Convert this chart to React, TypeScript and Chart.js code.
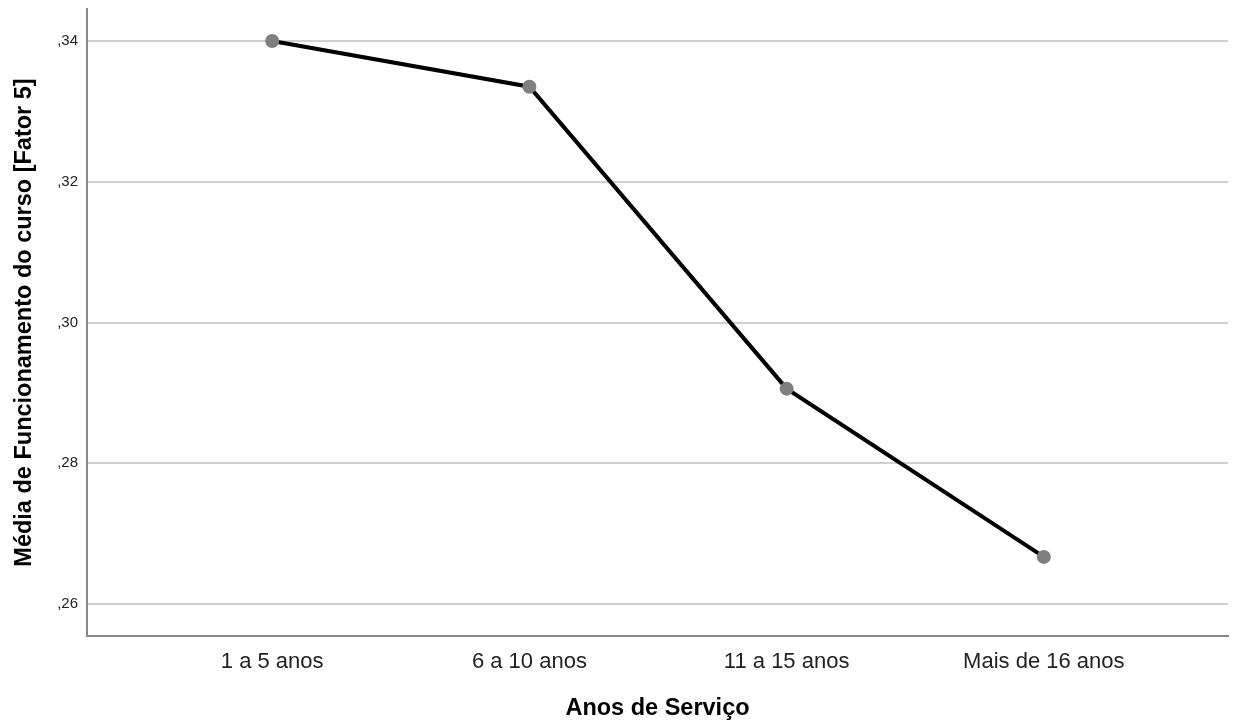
import React, { useEffect, useRef } from "react";
import { Chart, registerables } from "chart.js";

Chart.register(...registerables);

const categories = ["1 a 5 anos", "6 a 10 anos", "11 a 15 anos", "Mais de 16 anos"];
const means = [0.34, 0.3335, 0.2906, 0.2667];
const yTicks = [0.26, 0.28, 0.3, 0.32, 0.34];
const yTitle = "Média de Funcionamento do curso [Fator 5]";
const xTitle = "Anos de Serviço";

export default function App() {
  const ref = useRef<HTMLCanvasElement>(null);
  useEffect(() => {
    if (!ref.current) return;
    const chart = new Chart(ref.current, {
      type: "line",
      data: {
        datasets: [
          {
            data: categories.map((_, i) => ({ x: i, y: means[i] })),
            borderColor: "#000000",
            borderWidth: 4,
            pointBackgroundColor: "#7f7f7f",
            pointBorderColor: "#7f7f7f",
            pointRadius: 5,
            tension: 0,
          },
        ],
      },
      options: {
        animation: false,
        responsive: false,
        layout: { padding: { top: 8, right: 9, left: 0, bottom: 0 } },
        plugins: { legend: { display: false }, tooltip: { enabled: false } },
        scales: {
          x: {
            type: "linear",
            min: -0.72,
            max: 3.716,
            afterBuildTicks: (s: any) => {
              s.ticks = categories.map((_, i) => ({ value: i }));
            },
            afterFit: (s: any) => {
              s.height = 90;
              s.paddingLeft = 0;
              s.paddingRight = 0;
            },
            grid: { display: false, drawTicks: false },
            border: { color: "#888888", width: 2 },
            ticks: {
              callback: (v: any) => categories[v as number] ?? "",
              color: "#222222",
              font: { family: "Liberation Sans, Arial", size: 22 },
              padding: 13,
              maxRotation: 0,
              autoSkip: false,
            },
            title: {
              display: true,
              text: xTitle,
              color: "#000000",
              font: { family: "Liberation Sans, Arial", size: 23.5, weight: "bold" },
              padding: { top: 0, bottom: 3 },
            },
          },
          y: {
            type: "linear",
            min: 0.25546,
            max: 0.34454,
            afterBuildTicks: (s: any) => {
              s.ticks = yTicks.map((v) => ({ value: v }));
            },
            afterFit: (s: any) => {
              s.width = 87;
              s.paddingTop = 0;
              s.paddingBottom = 0;
            },
            grid: { color: "#d0d0d0", lineWidth: 2, drawTicks: false },
            border: { color: "#888888", width: 2 },
            ticks: {
              callback: (v: any) => "," + Number(v).toFixed(2).split(".")[1],
              color: "#222222",
              font: { family: "Liberation Sans, Arial", size: 15 },
              padding: 9,
            },
            title: {
              display: true,
              text: yTitle,
              color: "#000000",
              font: { family: "Liberation Sans, Arial", size: 23.5, weight: "bold" },
              padding: { top: 10, bottom: 0 },
            },
          },
        },
      },
    });
    return () => chart.destroy();
  }, []);
  return (
    <div style={{ position: "absolute", left: 0, top: 0, width: 1237, height: 726, background: "#ffffff" }}>
      <canvas ref={ref} width={1237} height={726} />
    </div>
  );
}
